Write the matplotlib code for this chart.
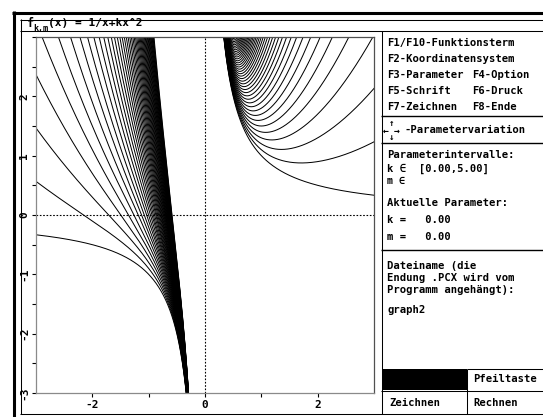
import numpy as np
import matplotlib
matplotlib.use('Agg')
import matplotlib.pyplot as plt
from matplotlib.patches import Rectangle

# parameter family f_k(x) = 1/x + k*x^2, k in [0.00, 5.00], step 0.10
k_min, k_max, k_step = 0.0, 5.0, 0.1
x_range = (-3.0, 3.0)
y_range = (-3.0, 3.0)
x_tick_labels = [-2, 0, 2]
y_tick_labels = [-3, -2, -1, 0, 1, 2]

menu_lines = [
    ('F1/F10-Funktionsterm', ''),
    ('F2-Koordinatensystem', ''),
    ('F3-Parameter', 'F4-Option'),
    ('F5-Schrift', 'F6-Druck'),
    ('F7-Zeichnen', 'F8-Ende'),
]
file_lines = ['Dateiname (die', 'Endung .PCX wird vom', 'Programm angehängt):']

W, H = 543, 417
FONT = 'DejaVu Sans Mono'

fig = plt.figure(figsize=(W / 100, H / 100), dpi=100)
fig.patch.set_facecolor('white')

# screen overlay in pixel coordinates
bg = fig.add_axes([0, 0, 1, 1])
bg.set_xlim(0, W)
bg.set_ylim(H, 0)
bg.axis('off')

def hline(y, x0, x1, lw=0.75, c='black'):
    bg.plot([x0, x1], [y, y], color=c, lw=lw, solid_capstyle='butt')

def vline(x, y0, y1, lw=0.75, c='black'):
    bg.plot([x, x], [y0, y1], color=c, lw=lw, solid_capstyle='butt')

def txt(x, y, s, size=7.6, **kw):
    bg.text(x, y, s, fontsize=size, family=FONT, fontweight='bold',
            va='center', ha='left', **kw)

# outer thick frame
hline(12.5, 12, W, lw=2.2)
vline(13.5, 11, H, lw=2.2)
# inner window
hline(19.5, 20, W)
vline(20.5, 19, 414)
hline(414, 20, W)
hline(31, 20, W)
vline(381.5, 31, 414)

# title
txt(27, 23, 'f', size=8.5)
txt(33, 28, 'k,m', size=6)
txt(48, 23, '(x) = 1/x+kx^2', size=8)

# menu panel
for i, (a, b) in enumerate(menu_lines):
    y = 43 + i * 16
    txt(387, y, a)
    if b:
        txt(472, y, b)
hline(116, 381, W, lw=1.0)
txt(383, 130.5, '\u2190', size=7)
txt(394, 130.5, '\u2192', size=7)
txt(389, 123, '\u2191', size=6.5)
txt(389, 138, '\u2193', size=6.5)
txt(405, 130, '-Parametervariation')
hline(143, 381, W, lw=1.0)

txt(387, 155, 'Parameterintervalle:')
txt(387, 169, 'k \u2208  [%.2f,%.2f]' % (k_min, k_max))
txt(387, 181, 'm \u2208', size=7.2)
txt(387, 203, 'Aktuelle Parameter:')
txt(387, 220, 'k =   %.2f' % k_min)
txt(387, 237, 'm =   0.00')
hline(250, 381, W, lw=1.0)

for i, s in enumerate(file_lines):
    txt(387, 266 + i * 12, s)
txt(387, 310, 'graph2')

# bottom buttons
bg.add_patch(Rectangle((381.5, 369), 85.5, 21, facecolor='black', edgecolor='none'))
hline(369, 467, W)
hline(390.5, 381, W)
vline(467, 369, 414)
txt(473, 379.5, 'Pfeiltaste')
txt(389, 402.5, 'Zeichnen')
txt(473, 402.5, 'Rechnen')

# function plot
ax = fig.add_axes([36 / W, (H - 393) / H, (374 - 36) / W, (393 - 37) / H])
ax.set_facecolor('white')

x_neg = np.linspace(x_range[0], -0.002, 3000)
x_pos = np.linspace(0.002, x_range[1], 3000)
n_k = int(round((k_max - k_min) / k_step)) + 1
for k in np.linspace(k_min, k_max, n_k):
    for xs in (x_neg, x_pos):
        ax.plot(xs, 1 / xs + k * xs ** 2, color='black', lw=0.72)

ax.axvline(0, color='black', lw=0.8, ls=(0, (1.5, 1.5)))
ax.axhline(0, color='black', lw=0.8, ls=(0, (1.5, 1.5)))

ax.set_xlim(*x_range)
ax.set_ylim(*y_range)

ax.set_xticks(np.arange(-2, 3, 1))
ax.set_xticklabels([str(v) if v in x_tick_labels else '' for v in range(-2, 3)])
ax.set_yticks(np.arange(-3, 3.01, 0.5))
ax.set_yticklabels([str(int(v)) if (v == int(v) and int(v) in y_tick_labels) else ''
                    for v in np.arange(-3, 3.01, 0.5)])
for lab in ax.get_yticklabels():
    lab.set_rotation(90)
    lab.set_va('center')
ax.tick_params(axis='both', direction='out', length=3, width=0.8,
               colors='black', labelsize=8, pad=2)
for lab in ax.get_xticklabels() + ax.get_yticklabels():
    lab.set_family(FONT)
    lab.set_fontweight('bold')

ax.spines['left'].set_color('#8a8a8a')
ax.spines['bottom'].set_color('#8a8a8a')
ax.spines['top'].set_color('#505050')
ax.spines['right'].set_color('#505050')
for sp in ax.spines.values():
    sp.set_linewidth(0.9)

fig.savefig('out.png', dpi=100)
